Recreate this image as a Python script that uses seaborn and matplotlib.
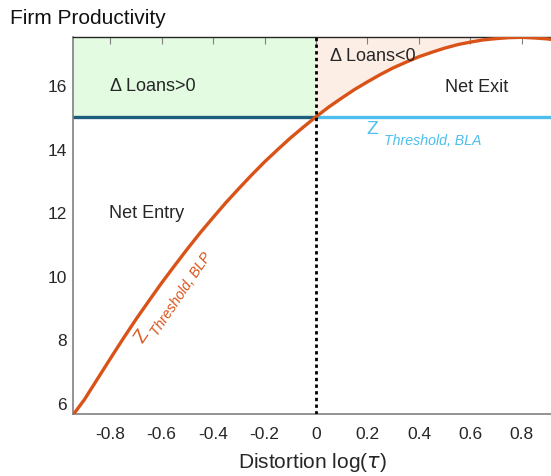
import numpy as np
import pandas as pd
import matplotlib
matplotlib.use("Agg")
import matplotlib.pyplot as plt
import seaborn as sns

# Productivity threshold under the BLP regime, as a function of the distortion
distortion = [-0.944, -0.9, -0.85, -0.8, -0.75, -0.7, -0.65, -0.6, -0.55, -0.5,
              -0.45, -0.4, -0.35, -0.3, -0.25, -0.2, -0.15, -0.1, -0.05, 0.0,
              0.05, 0.1, 0.15, 0.2, 0.25, 0.3, 0.35, 0.4, 0.45, 0.5,
              0.55, 0.6, 0.65, 0.7, 0.75, 0.8, 0.85, 0.9, 0.95]
z_blp = [5.62, 6.10, 6.74, 7.38, 8.01, 8.62, 9.20, 9.77, 10.31, 10.84,
         11.35, 11.83, 12.30, 12.74, 13.17, 13.58, 13.96, 14.33, 14.67, 15.00,
         15.31, 15.59, 15.86, 16.10, 16.33, 16.54, 16.72, 16.89, 17.03, 17.16,
         17.27, 17.35, 17.42, 17.46, 17.49, 17.50, 17.48, 17.45, 17.39]
# Flat threshold under the BLA regime
z_bla = 15.0

x_ticks = [-0.8, -0.6, -0.4, -0.2, 0, 0.2, 0.4, 0.6, 0.8]
x_tick_labels = ["-0.8", "-0.6", "-0.4", "-0.2", "0", "0.2", "0.4", "0.6", "0.8"]
y_ticks = [6, 8, 10, 12, 14, 16]
y_tick_labels = ["6", "8", "10", "12", "14", "16"]

sns.set_style("white")
plt.rcParams["font.family"] = ["Liberation Sans", "DejaVu Sans"]
plt.rcParams["axes.unicode_minus"] = False
plt.rcParams["mathtext.fontset"] = "dejavusans"

xmin, xmax = -0.944, 0.913
ymin, ymax = 5.65, 17.51

fig = plt.figure(figsize=(5.51, 4.77), dpi=100)
ax = fig.add_axes([0.1325, 0.13, 0.8675, 0.7903])

df = pd.DataFrame({"distortion": distortion, "z": z_blp})

# Shaded regions: loans rise left of zero, fall between zero and the curve
ax.fill_between([xmin, 0], [z_bla, z_bla], [ymax, ymax], color="#e2fbe1", lw=0, zorder=0)
pos = df[df["distortion"] >= 0]
ax.fill_between(pos["distortion"], pos["z"], ymax, color="#fdeee5", lw=0, zorder=0)

# BLA threshold line
ax.plot([0, xmax], [z_bla, z_bla], color="#4dbeee", lw=2.4, zorder=2)
ax.plot([xmin, 0], [z_bla, z_bla], color="#1e5e7c", lw=2.4, zorder=2)

# BLP threshold curve
sns.lineplot(data=df, x="distortion", y="z", color="#d95319", lw=2.4, ax=ax,
             zorder=3)

# Zero-distortion reference
ax.axvline(0, color="black", ls=(0, (1.2, 1.2)), lw=2, zorder=4)

ax.set_xlim(xmin, xmax)
ax.set_ylim(ymin, ymax)
ax.set_xticks(x_ticks)
ax.set_xticklabels(x_tick_labels)
ax.set_yticks(y_ticks)
ax.set_yticklabels(y_tick_labels)
ax.tick_params(axis="both", direction="in", length=5, width=0.8, color="#808080",
               labelsize=12.5, labelcolor="#262626", top=True)
ax.tick_params(axis="x", pad=9)
ax.tick_params(axis="y", pad=4.5)
for side in ["left", "bottom"]:
    ax.spines[side].set_color("#808080")
    ax.spines[side].set_linewidth(1.2)
ax.spines["top"].set_color("#262626")
ax.spines["top"].set_linewidth(1.0)
ax.spines["right"].set_visible(False)

ax.set_xlabel("Distortion log($\\tau$)", fontsize=15, color="#262626", labelpad=6)
ax.set_ylabel("")
fig.text(0.018, 0.962, "Firm Productivity", fontsize=15, color="#111111",
         ha="left", va="center")

# Region annotations
ax.text(-0.8, 16.0, "\u0394 Loans>0", fontsize=13, ha="left", va="center")
ax.text(0.055, 16.92, "\u0394 Loans<0", fontsize=13, ha="left", va="center")
ax.text(0.625, 15.95, "Net Exit", fontsize=13, ha="center", va="center")
ax.text(-0.66, 12.0, "Net Entry", fontsize=13, ha="center", va="center")

# Threshold labels
ax.text(0.217, 14.62, "Z", fontsize=14, color="#4dbeee", ha="center", va="center")
ax.text(0.455, 14.28, "Threshold, BLA", fontsize=10.2, style="italic",
        color="#4dbeee", ha="center", va="center")
ax.text(-0.675, 8.12, "Z", fontsize=14, color="#d95319", ha="center", va="center",
        rotation=56, rotation_mode="anchor")
ax.text(-0.522, 9.45, "Threshold, BLP", fontsize=10.2, style="italic",
        color="#d95319", ha="center", va="center", rotation=56,
        rotation_mode="anchor")

fig.savefig("out.png", dpi=100)
